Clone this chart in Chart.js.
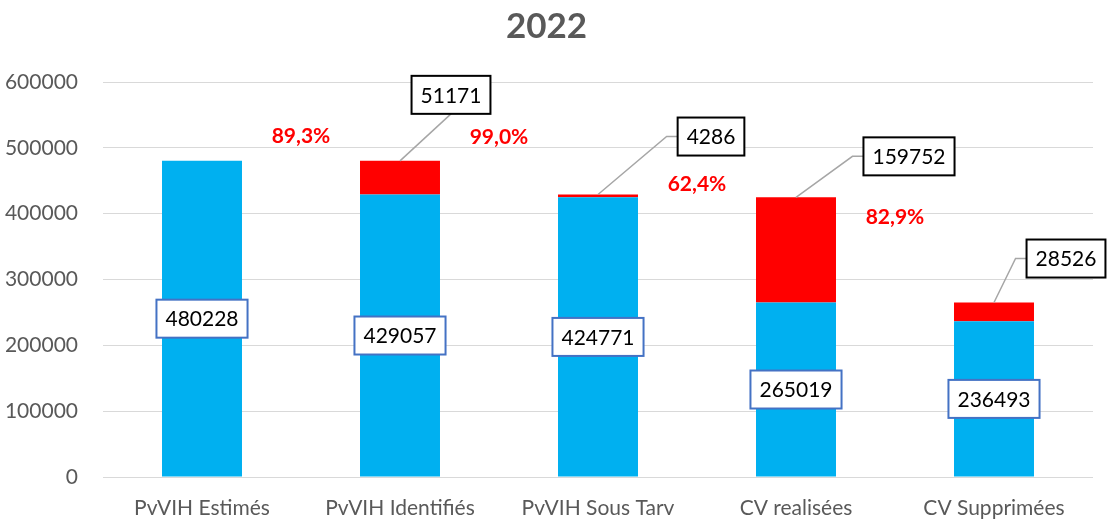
<!DOCTYPE html>
<html>
<head>
<meta charset="utf-8">
<script src="https://cdn.jsdelivr.net/npm/chart.js@4/dist/chart.umd.min.js"></script>
<style>
  html, body { margin: 0; padding: 0; background: #fff; }
  #wrap { width: 1107px; height: 520px; }
</style>
</head>
<body>
<div id="wrap"><canvas id="chart2022"></canvas></div>
<script>
// values
var categories = ['PvVIH Estimés', 'PvVIH Identifiés', 'PvVIH Sous Tarv', 'CV realisées', 'CV Supprimées'];
var reached = [480228, 429057, 424771, 265019, 236493];
var gap = [0, 51171, 4286, 159752, 28526];
var ratios = ['89,3%', '99,0%', '62,4%', '82,9%'];

var FONT = 'Lato, "Open Sans", sans-serif';
var GREY = '#595959';

// where the annotation boxes sit (pixel offsets from the top of the red segment)
var gapBoxOffset = [null, [51, -66], [113, -58], [113, -41], [72, -44]];
// vertical anchor (axis value) of the percentage labels, placed between bars
var ratioAt = [518000, 516000, 445000, 395000];

function drawBox(ctx, text, cx, cy, border) {
  ctx.font = '21px ' + FONT;
  var w = ctx.measureText(text).width + 18;
  var h = 38;
  ctx.fillStyle = '#fff';
  ctx.fillRect(cx - w / 2, cy - h / 2, w, h);
  ctx.lineWidth = 2;
  ctx.strokeStyle = border;
  ctx.strokeRect(cx - w / 2, cy - h / 2, w, h);
  ctx.fillStyle = '#000';
  ctx.textAlign = 'center';
  ctx.textBaseline = 'middle';
  ctx.fillText(text, cx, cy + 1);
  return w;
}

var labelsPlugin = {
  id: 'boxLabels',
  afterDatasetsDraw: function(chart) {
    var ctx = chart.ctx;
    var y = chart.scales.y;
    var blue = chart.getDatasetMeta(0).data;
    var red = chart.getDatasetMeta(1).data;
    ctx.save();

    // leader lines + boxes for the red segments
    red.forEach(function(bar, i) {
      if (!gap[i]) return;
      var off = gapBoxOffset[i];
      var bx = bar.x + off[0], by = bar.y + off[1];
      ctx.font = '21px ' + FONT;
      var w = ctx.measureText(String(gap[i])).width + 18;
      ctx.strokeStyle = '#a6a6a6';
      ctx.lineWidth = 1.5;
      ctx.beginPath();
      ctx.moveTo(bar.x, bar.y);
      if (i === 1) {
        ctx.lineTo(bx, by + 19);
      } else {
        ctx.lineTo(bx - w / 2 - 11, by);
        ctx.lineTo(bx - w / 2, by);
      }
      ctx.stroke();
      drawBox(ctx, String(gap[i]), bx, by, '#000');
    });

    // boxes in the middle of the blue segments
    blue.forEach(function(bar, i) {
      drawBox(ctx, String(reached[i]), bar.x, (bar.y + bar.base) / 2, '#4472c4');
    });

    // ratios between consecutive bars
    ctx.font = 'bold 21px ' + FONT;
    ctx.fillStyle = '#ff0000';
    ctx.textAlign = 'center';
    ctx.textBaseline = 'middle';
    ratios.forEach(function(t, i) {
      var x = (blue[i].x + blue[i + 1].x) / 2;
      ctx.fillText(t, x, y.getPixelForValue(ratioAt[i]));
    });
    ctx.restore();
  }
};

new Chart('chart2022', {
  type: 'bar',
  data: {
    labels: categories,
    datasets: [
      {
        label: 'reached',
        data: reached,
        backgroundColor: '#00b0f0',
        categoryPercentage: 1,
        barPercentage: 0.404
      },
      {
        label: 'gap',
        data: gap,
        backgroundColor: '#ff0000',
        categoryPercentage: 1,
        barPercentage: 0.404
      }
    ]
  },
  options: {
    responsive: true,
    maintainAspectRatio: false,
    animation: false,
    layout: { padding: { left: 0, right: 14, top: 0, bottom: 0 } },
    plugins: {
      legend: { display: false },
      tooltip: { enabled: false },
      title: {
        display: true,
        text: '2022',
        color: GREY,
        font: { family: FONT, size: 35, weight: 'bold' },
        padding: { top: 6, bottom: 34 }
      }
    },
    scales: {
      x: {
        stacked: true,
        grid: { display: false, drawTicks: false },
        border: { display: false },
        ticks: { color: GREY, font: { family: FONT, size: 21 }, padding: 19 },
        afterFit: function(s) { s.height = 43; }
      },
      y: {
        stacked: true,
        min: 0,
        max: 600000,
        grid: { color: '#d9d9d9', lineWidth: 1, drawTicks: false },
        border: { display: false },
        ticks: {
          stepSize: 100000,
          color: GREY,
          font: { family: FONT, size: 21 },
          padding: 25,
          callback: function(v) { return String(v); }
        },
        afterFit: function(s) { s.width = 103; }
      }
    }
  },
  plugins: [labelsPlugin]
});
</script>
</body>
</html>
